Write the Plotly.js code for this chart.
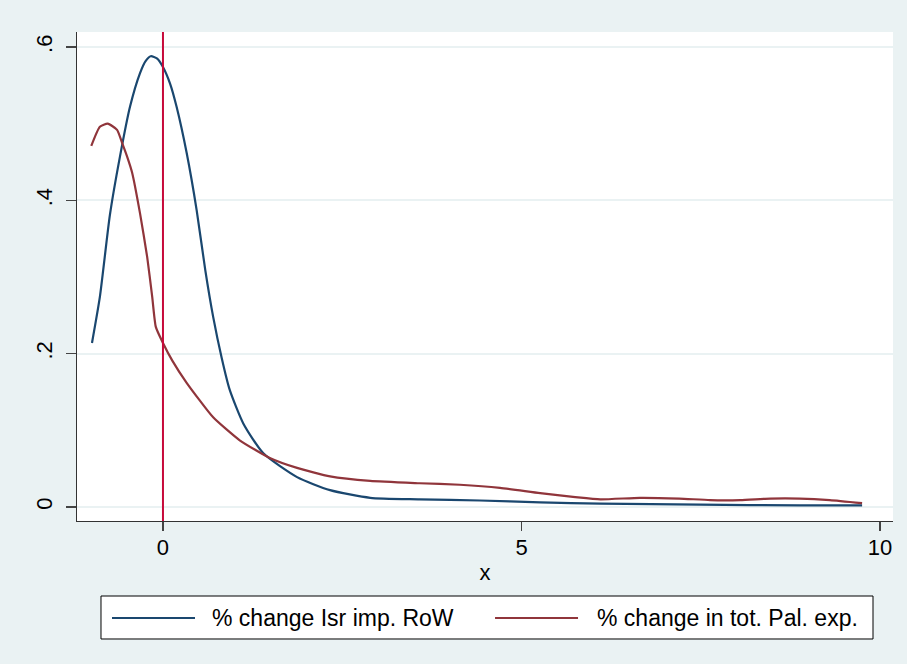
<!DOCTYPE html>
<html>
<head>
<meta charset="utf-8">
<script src="https://cdn.plot.ly/plotly-3.0.1.min.js"></script>
<style>html,body{margin:0;padding:0;background:#eaf2f3;}#chart{width:907px;height:664px;}</style>
</head>
<body>
<div id="chart"></div>
<script>
// Series 1: % change Isr imp. RoW
const rowX = [-0.99, -0.88, -0.74, -0.60, -0.46, -0.32, -0.24, -0.17, -0.08, 0, 0.10, 0.19, 0.33, 0.47, 0.59, 0.70, 0.82, 0.93, 1.12, 1.40, 1.87, 2.33, 2.89, 3.58, 4.42, 5.26, 6.10, 7.49, 8.88, 9.75];
const rowY = [0.214, 0.274, 0.381, 0.457, 0.522, 0.566, 0.582, 0.588, 0.585, 0.574, 0.552, 0.522, 0.462, 0.387, 0.309, 0.248, 0.194, 0.153, 0.109, 0.070, 0.039, 0.022, 0.012, 0.010, 0.0085, 0.006, 0.0045, 0.003, 0.002, 0.002];
// Series 2: % change in tot. Pal. exp.
const palX = [-1.00, -0.88, -0.77, -0.64, -0.57, -0.50, -0.43, -0.32, -0.22, -0.15, -0.10, 0, 0.13, 0.33, 0.70, 1.07, 1.49, 1.87, 2.33, 2.89, 3.58, 4.14, 4.70, 5.26, 5.75, 6.10, 6.65, 7.20, 7.63, 8.05, 8.47, 8.88, 9.30, 9.75];
const palY = [0.471, 0.496, 0.500, 0.492, 0.475, 0.457, 0.436, 0.383, 0.326, 0.274, 0.235, 0.214, 0.191, 0.162, 0.117, 0.087, 0.064, 0.051, 0.040, 0.034, 0.031, 0.029, 0.025, 0.018, 0.013, 0.010, 0.012, 0.011, 0.009, 0.009, 0.011, 0.011, 0.009, 0.005];
// Axis ticks
const xTicks = [0, 5, 10];
const xTickText = ['0', '5', '10'];
const yTicks = [0, 0.2, 0.4, 0.6];
const yTickText = ['0', '.2', '.4', '.6'];
const refLineX = 0;
const legendNames = ['% change Isr imp. RoW', '% change in tot. Pal. exp.'];

const navy = '#1a476f', maroon = '#90353b', xlineColor = '#c70a3a';
const font = {family: 'Arial, "Liberation Sans", sans-serif', size: 22, color: '#000'};
const legFont = {family: 'Arial, "Liberation Sans", sans-serif', size: 23, color: '#000'};

const traces = [
  {x: rowX, y: rowY, type: 'scatter', mode: 'lines', name: legendNames[0], line: {color: navy, width: 2.2, shape: 'spline', smoothing: 0.6}},
  {x: palX, y: palY, type: 'scatter', mode: 'lines', name: legendNames[1], line: {color: maroon, width: 2.2, shape: 'spline', smoothing: 0.5}}
];

const legY = -0.1984;
const layout = {
  width: 907, height: 664,
  margin: {l: 77, r: 14, t: 32, b: 143},
  paper_bgcolor: '#eaf2f3',
  plot_bgcolor: '#ffffff',
  font: font,
  showlegend: false,
  xaxis: {
    range: [-1.199, 10.181], tickvals: xTicks, ticktext: xTickText,
    showgrid: false, zeroline: false, showline: true, linecolor: '#333', linewidth: 1.2,
    ticks: 'outside', ticklen: 9, tickcolor: '#444', tickwidth: 1.2,
    ticklabelstandoff: -3,
    title: {text: 'x', font: font, standoff: 6}
  },
  yaxis: {
    range: [-0.01826, 0.6196], tickvals: yTicks, ticktext: yTickText,
    showgrid: true, gridcolor: '#eaf2f3', gridwidth: 2, zeroline: false,
    showline: true, linecolor: '#333', linewidth: 1.2,
    ticks: 'outside', ticklen: 10, tickcolor: '#444', tickwidth: 1.2,
    tickangle: -90, ticklabelstandoff: 5
  },
  shapes: [
    {type: 'line', xref: 'x', yref: 'paper', x0: refLineX, x1: refLineX, y0: 0, y1: 1, line: {color: xlineColor, width: 2}, layer: 'above'},
    {type: 'rect', xref: 'paper', yref: 'paper', x0: 0.0294, x1: 0.9755, y0: -0.2413, y1: -0.1534, fillcolor: '#fff', line: {color: '#000', width: 1}},
    {type: 'line', xref: 'paper', yref: 'paper', x0: 0.0429, x1: 0.1446, y0: legY, y1: legY, line: {color: navy, width: 2.2}},
    {type: 'line', xref: 'paper', yref: 'paper', x0: 0.5123, x1: 0.6140, y0: legY, y1: legY, line: {color: maroon, width: 2.2}}
  ],
  annotations: [
    {xref: 'paper', yref: 'paper', x: 0.1630, y: legY, xanchor: 'left', yanchor: 'middle', text: legendNames[0], showarrow: false, font: legFont},
    {xref: 'paper', yref: 'paper', x: 0.6348, y: legY, xanchor: 'left', yanchor: 'middle', text: legendNames[1], showarrow: false, font: legFont}
  ]
};
Plotly.newPlot('chart', traces, layout, {displayModeBar: false, staticPlot: true});
</script>
</body>
</html>
